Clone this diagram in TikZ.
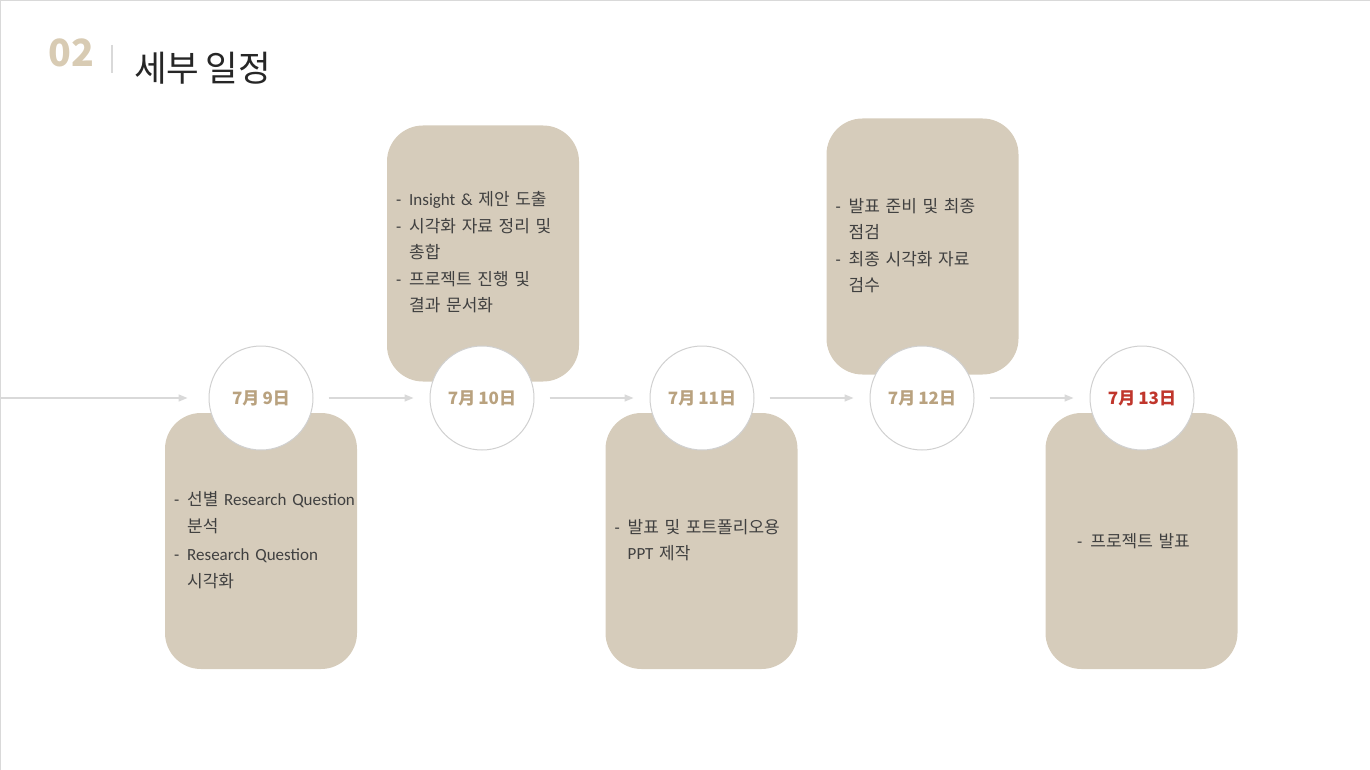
\documentclass[tikz,border=0pt]{standalone}
\usepackage{fontspec}
\setmainfont{Carlito}
\newfontfamily\cjk{Noto Sans CJK KR}[WordSpace=0.8]
\usetikzlibrary{arrows.meta,positioning}
\definecolor{sand}{HTML}{D6CCBB}
\definecolor{numtan}{HTML}{D8CBB3}
\definecolor{datetan}{HTML}{B9A27F}
\definecolor{lastred}{HTML}{C0362C}
\definecolor{ringgray}{HTML}{D0D0D0}
\definecolor{arrowgray}{HTML}{D9D9D9}
\definecolor{bodytext}{HTML}{404040}
\definecolor{titletext}{HTML}{262626}
\tikzset{
	plan/.style={rectangle, rounded corners=36pt, fill=sand, minimum width=192pt, minimum height=256pt,
		text width=174pt, align=left, inner xsep=9pt, font=\fontsize{17}{26.5}\selectfont, text=bodytext},
	day/.style={circle, draw=ringgray, line width=1pt, fill=white, minimum size=104pt,
		font=\cjk\bfseries\fontsize{17}{17}\selectfont, text=datetan},
	flow/.style={draw=arrowgray, line width=1.5pt, -{Triangle[length=9pt,width=7pt]}},
	frame/.style={draw=arrowgray, line width=1.5pt}
}
\newcommand{\tasks}[1]{\begin{tabular}{@{}l@{\hspace{8pt}}l@{}}#1\end{tabular}}

\begin{document}
\begin{tikzpicture}[x=1pt,y=-1pt]
	\useasboundingbox (0,0) rectangle (1370,770);
	\draw[frame] (0,770) -- (0,0) -- (1370,0);
	% title
	\node[font=\cjk\bfseries\fontsize{37.5}{37.5}\selectfont, text=numtan] (num) at (71.5,53) {02};
	\draw[draw=arrowgray, line width=1.2pt] (112,45) -- (112,73);
	\node[anchor=west, inner sep=0pt, font=\cjk\fontsize{35.5}{35.5}\selectfont, text=titletext] (title) at (134,68) {세부 일정};
	% boxes
	\node[plan] (p9) at (261,541) {\tasks{- & {\cjk 선별} Research Question\\ & {\cjk 분석}\\[2pt] - & Research Question\\ & {\cjk 시각화}}};
	\node[plan] (p10) at (483,253.5) {\tasks{- & Insight \& {\cjk 제안 도출}\\ - & {\cjk 시각화 자료 정리 및}\\ & {\cjk 총합}\\ - & {\cjk 프로젝트 진행 및}\\ & {\cjk 결과 문서화}}};
	\node[plan] (p11) at (701.5,541) {\tasks{- & {\cjk 발표 및 포트폴리오용}\\ & PPT {\cjk 제작}}};
	\node[plan] (p12) at (922.5,246.5) {\tasks{- & {\cjk 발표 준비 및 최종}\\ & {\cjk 점검}\\ - & {\cjk 최종 시각화 자료}\\ & {\cjk 검수}}};
	\node[plan, align=center] (p13) at (1141.5,541) {-\hspace{8pt}{\cjk 프로젝트 발표}\rule{16pt}{0pt}};
	% days
	\node[day] (d9) at (261,398) {7月 9日};
	\node[day] (d10) at (482,398) {7月 10日};
	\node[day] (d11) at (702,398) {7月 11日};
	\node[day] (d12) at (922,398) {7月 12日};
	\node[day, text=lastred] (d13) at (1142,398) {7月 13日};
	% arrows
	\coordinate (start) at (0,398);
	\draw[flow, shorten >=21pt] (start) -- (d9);
	\draw[flow, shorten <=15pt, shorten >=16pt] (d9) -- (d10);
	\draw[flow, shorten <=15pt, shorten >=16pt] (d10) -- (d11);
	\draw[flow, shorten <=15pt, shorten >=16pt] (d11) -- (d12);
	\draw[flow, shorten <=15pt, shorten >=16pt] (d12) -- (d13);
\end{tikzpicture}
\end{document}
